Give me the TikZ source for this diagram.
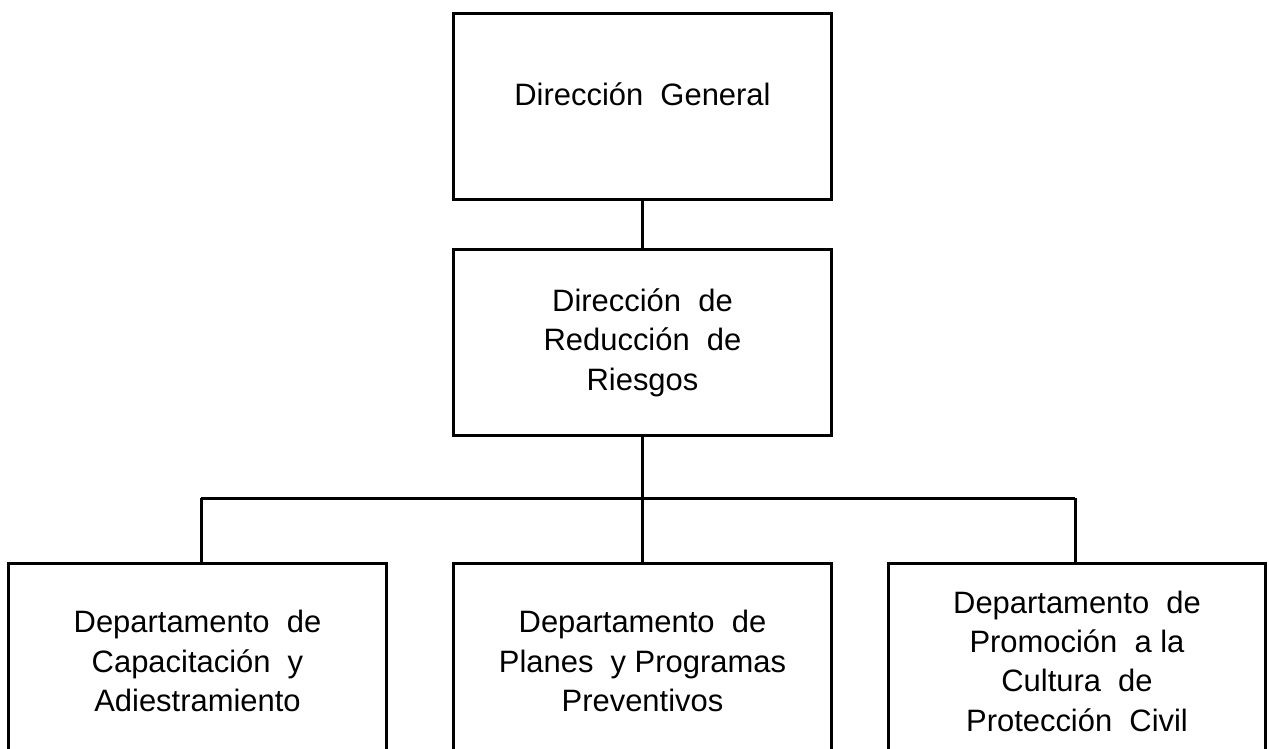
\documentclass[tikz,border=0pt]{standalone}
\usepackage{fontspec}
\setmainfont{Liberation Sans}
\usepackage{tikz}
\usetikzlibrary{positioning}

\begin{document}
\begin{tikzpicture}[
    x=0.025cm, y=-0.025cm,
    box/.style={draw, line width=0.075cm, minimum width=9.45cm,
                minimum height=4.65cm, align=center, inner sep=0pt,
                font=\fontsize{22}{28}\selectfont},
    dept/.style={box, minimum height=4.85cm},
    conn/.style={line width=0.075cm}
  ]
  \useasboundingbox (0,0) rectangle (1269,749);
  % Upper boxes
  \node[box, text depth=0.64cm] (DG) at (642.5,106.5) {Direcci\'on\ \ General};
  \node[box] (DRR) at (642.5,342.5) {Direcci\'on\ \ de\\Reducci\'on\ \ de\\Riesgos};
  % Department boxes
  \node[dept] (DCA) at (197.5,661)
    {Departamento\ \ de\\Capacitaci\'on\ \ y\\Adiestramiento};
  \node[dept] (DPP) at (642.5,661)
    {Departamento\ \ de\\Planes\ \ y\ Programas\\Preventivos};
  \node[dept, minimum width=9.4cm] (DPC) at (1077,661)
    {Departamento\ \ de\\Promoci\'on\ \ a\ la\\Cultura\ \ de\\Protecci\'on\ \ Civil};
  % Connectors
  \coordinate (barL) at (201,498);
  \coordinate (barR) at (1075,498);
  \draw[conn] (DG.south) -- (DRR.north);
  \draw[conn] (DRR.south) -- (DRR.south |- barL);
  \draw[conn] (barL) -- (barR);
  \draw[conn] (barL) -- (barL |- DCA.north);
  \draw[conn] (DRR.south |- barL) -- (DPP.north);
  \draw[conn] (barR) -- (barR |- DPC.north);
\end{tikzpicture}
\end{document}
